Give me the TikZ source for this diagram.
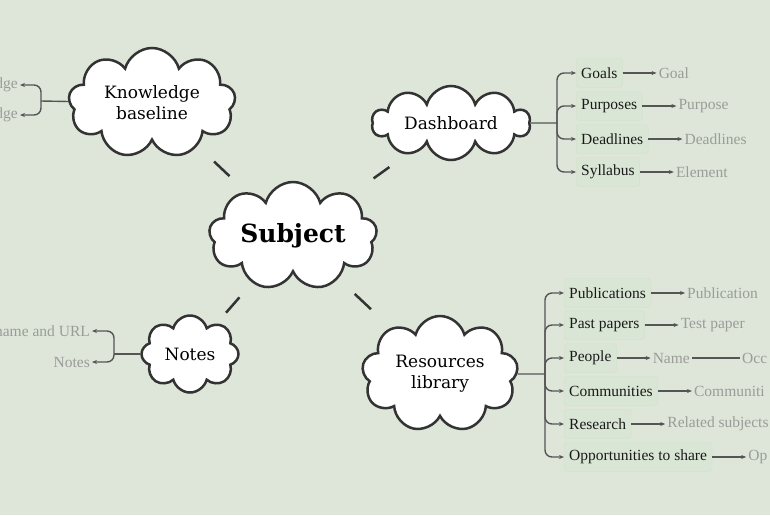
\documentclass[tikz,border=0pt]{standalone}
\usepackage{fontspec}
\setmainfont{Liberation Serif}
\newfontfamily\slabfont{DejaVu Serif}
\usetikzlibrary{arrows.meta,positioning,calc,shapes.symbols}
\definecolor{paper}{HTML}{DDE6D9}
\definecolor{ink}{HTML}{333333}
\definecolor{wire}{HTML}{555555}
\definecolor{leafc}{HTML}{9A9C98}
\definecolor{boxc}{HTML}{DAE6D5}
\definecolor{boxline}{HTML}{D2E0CC}
\tikzset{bubble/.style={cloud,cloud puffs=10,cloud ignores aspect,draw=ink,line width=2.5pt,
    fill=white,align=center,inner sep=0pt,font=\slabfont\fontsize{17}{21}\selectfont},
  link/.style={draw=ink,line width=2.5pt},
  branch/.style={draw=wire,line width=1.4pt,rounded corners=7pt},
  item/.style={rounded corners=3pt,fill=boxc,draw=boxline,inner xsep=5pt,minimum height=29pt,
    text=black!90,font=\fontsize{15.5}{18}\selectfont},
  leaf/.style={text=leafc,inner xsep=2pt,font=\fontsize{15.5}{18}\selectfont},
  tip/.style={-{Stealth[length=5pt,width=4pt]}}}

\begin{document}
\begin{tikzpicture}[x=1pt,y=-1pt]
\clip (0,0) rectangle (770,515);
\fill[paper] (0,0) rectangle (770,515);
% clouds
\node[bubble,cloud puffs=9,minimum width=168pt,minimum height=108pt,
  font=\slabfont\bfseries\fontsize{25}{30}\selectfont] (subject) at (293,236) {Subject};
\node[bubble,cloud puffs=9,minimum width=167pt,minimum height=110pt] (know) at (152,103) {Knowledge\\baseline};
\node[bubble,cloud puffs=10,minimum width=158pt,minimum height=74pt] (dash) at (451,123) {Dashboard};
\node[bubble,cloud puffs=8,minimum width=97pt,minimum height=77pt] (notes) at (190,354) {Notes};
\node[bubble,cloud puffs=9,minimum width=156pt,minimum height=116pt] (res) at (440,374) {Resources\\library};
\draw[link] ($(subject)!.45!(know)$) -- ($(subject)!.56!(know)$);
\draw[link] ($(subject)!.51!(dash)$) -- ($(subject)!.61!(dash)$);
\draw[link] ($(subject)!.52!(notes)$) -- ($(subject)!.65!(notes)$);
\draw[link] ($(subject)!.42!(res)$) -- ($(subject)!.53!(res)$);
% knowledge baseline
\coordinate (khub) at (41,101);
\node[leaf,anchor=east] (kone) at (20,85) {dge};
\node[leaf,anchor=east] (ktwo) at (20,115) {dge};
\draw[branch] (know) -- (khub);
\draw[branch,tip] (khub) |- (kone);
\draw[branch,tip] (khub) |- (ktwo);
% notes
\coordinate (nhub) at (114,354);
\node[leaf,anchor=east] (nurl) at (92,331) {name and URL};
\node[leaf,anchor=east] (ntxt) at (92,362) {Notes};
\draw[branch] (notes) -- (nhub);
\draw[branch,tip] (nhub) |- (nurl);
\draw[branch,tip] (nhub) |- (ntxt);
% dashboard
\coordinate (dhub) at (557,123);
\draw[branch] (dash) -- (dhub);
\node[item,anchor=west] (goals) at (576,73) {Goals};
\node[item,anchor=west] (purp) at (576,106) {Purposes};
\node[item,anchor=west] (dead) at (576,139) {Deadlines};
\node[item,anchor=west] (syll) at (576,172) {Syllabus};
\node[leaf,right=34pt of goals] (goal) {Goal};
\node[leaf,right=34pt of purp] (purpose) {Purpose};
\node[leaf,right=34pt of dead] (deadline) {Deadlines};
\node[leaf,right=34pt of syll] (element) {Element};
\draw[branch,tip] (dhub) |- (goals);
\draw[branch,tip] (dhub) |- (purp);
\draw[branch,tip] (dhub) |- (dead);
\draw[branch,tip] (dhub) |- (syll);
\draw[branch,tip] (goals) -- (goal);
\draw[branch,tip] (purp) -- (purpose);
\draw[branch,tip] (dead) -- (deadline);
\draw[branch,tip] (syll) -- (element);
% resources library
\coordinate (rhub) at (545,374);
\draw[branch] (res) -- (rhub);
\node[item,anchor=west] (publ) at (564,293) {Publications};
\node[item,anchor=west] (past) at (564,325) {Past papers};
\node[item,anchor=west] (people) at (564,358) {People};
\node[item,anchor=west] (comm) at (564,391) {Communities};
\node[item,anchor=west] (research) at (564,424) {Research};
\node[item,anchor=west] (share) at (564,457) {Opportunities to share};
\node[leaf,right=34pt of publ] (pub) {Publication};
\node[leaf,right=34pt of past] (test) {Test paper};
\node[leaf,right=34pt of people] (name) {Name};
\node[leaf,right=48pt of name] (occ) {Occ};
\node[leaf,right=34pt of comm] (commy) {Communiti};
\node[leaf,right=34pt of research] (related) {Related subjects};
\node[leaf,right=34pt of share] (opp) {Op};
\foreach \n in {publ,past,people,comm,research,share}
  \draw[branch,tip] (rhub) |- (\n);
\draw[branch,tip] (publ) -- (pub);
\draw[branch,tip] (past) -- (test);
\draw[branch,tip] (people) -- (name);
\draw[branch] (name) -- (occ);
\draw[branch,tip] (comm) -- (commy);
\draw[branch,tip] (research) -- (related);
\draw[branch,tip] (share) -- (opp);
\end{tikzpicture}
\end{document}
